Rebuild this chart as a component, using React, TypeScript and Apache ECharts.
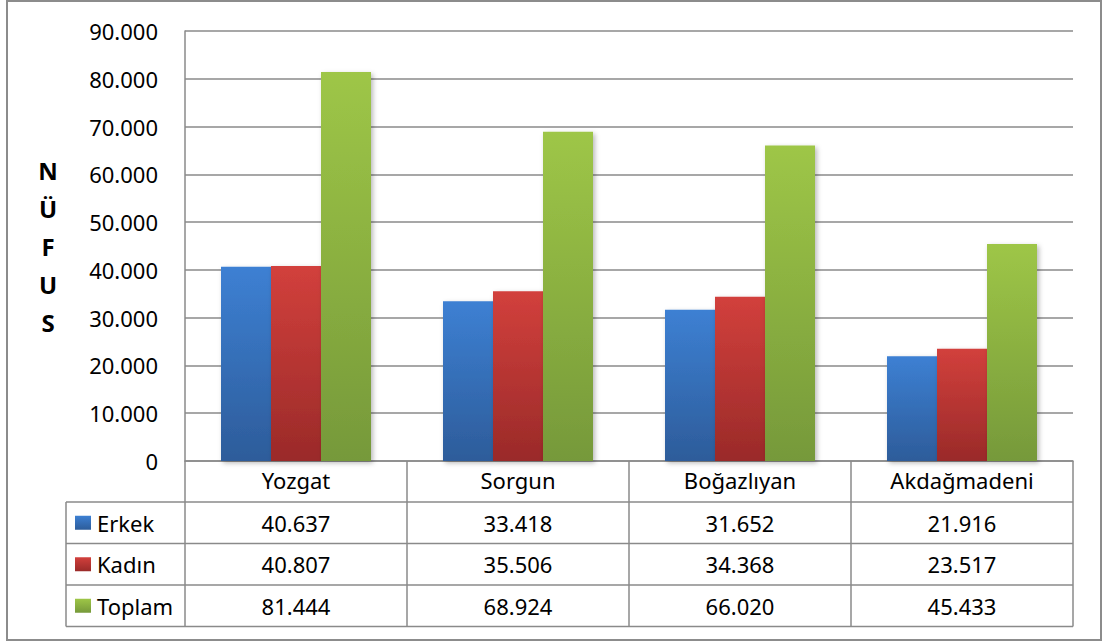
import React, { useEffect, useRef } from "react";
import * as echarts from "echarts";

const categories = ["Yozgat", "Sorgun", "Boğazlıyan", "Akdağmadeni"];
const seriesNames = ["Erkek", "Kadın", "Toplam"];
const erkek = [40637, 33418, 31652, 21916];
const kadin = [40807, 35506, 34368, 23517];
const toplam = [81444, 68924, 66020, 45433];
const yTicks = [0, 10000, 20000, 30000, 40000, 50000, 60000, 70000, 80000, 90000];
const axisTitle = ["N", "Ü", "F", "U", "S"];

const gradients = [
  ["#3d80d3", "#2d5c9a"],
  ["#d2403c", "#9a2a29"],
  ["#9ec647", "#76993a"],
];

const FONT = "Noto Sans";
const FS = 22;
const LINE = "#8a8a8a";

const fmt = (v: number) => {
  if (v === 0) return "0";
  const s = String(Math.round(v));
  return s.replace(/\B(?=(\d{3})+(?!\d))/g, ".");
};

const grad = (i: number) =>
  new echarts.graphic.LinearGradient(0, 0, 0, 1, [
    { offset: 0, color: gradients[i][0] },
    { offset: 1, color: gradients[i][1] },
  ]);

export default function App() {
  const ref = useRef<HTMLDivElement>(null);
  useEffect(() => {
    if (!ref.current) return;
    const chart = echarts.init(ref.current, null, { renderer: "svg" });
    const data = [erkek, kadin, toplam];
    chart.setOption({
      animation: false,
      backgroundColor: "#ffffff",
      textStyle: { fontFamily: FONT },
      grid: { left: 185, right: 30, top: 31, bottom: 182, containLabel: false },
      xAxis: {
        type: "category",
        data: categories,
        axisLine: { show: true, lineStyle: { color: LINE, width: 1.5 } },
        axisTick: { show: false },
        axisLabel: { color: "#000", fontSize: FS, fontFamily: FONT, margin: 8 },
      },
      yAxis: {
        type: "value",
        min: yTicks[0],
        max: yTicks[yTicks.length - 1],
        interval: yTicks[1] - yTicks[0],
        axisLine: { show: true, lineStyle: { color: LINE, width: 1.5 } },
        axisTick: { show: false },
        axisLabel: {
          color: "#000",
          fontSize: FS,
          fontFamily: FONT,
          margin: 27,
          formatter: (v: number) => fmt(v),
        },
        splitLine: { show: true, lineStyle: { color: LINE, width: 1.5 } },
      },
      series: seriesNames.map((name, i) => ({
        name,
        type: "bar",
        data: data[i],
        barWidth: 50,
        barGap: "0%",
        itemStyle: {
          color: grad(i),
          shadowBlur: 5,
          shadowColor: "rgba(0,0,0,0.28)",
          shadowOffsetX: 2,
          shadowOffsetY: 2,
        },
      })),
    });

    const cx = categories.map((c, i) => chart.convertToPixel({ xAxisIndex: 0 }, i) as number);
    const band = cx.length > 1 ? cx[1] - cx[0] : 200;
    const tLeftCat = cx[0] - band / 2;
    const tRight = cx[cx.length - 1] + band / 2;
    const y0 = chart.convertToPixel({ yAxisIndex: 0 }, 0) as number;
    const yTop = chart.convertToPixel({ yAxisIndex: 0 }, yTicks[yTicks.length - 1]) as number;
    const headerH = 41;
    const rowH = 41.5;
    const tableLeft = 66;
    const rowTops = seriesNames.map((_, i) => y0 + headerH + i * rowH);
    const tBottom = y0 + headerH + seriesNames.length * rowH;

    const els: any[] = [];
    const ls = { stroke: LINE, lineWidth: 1.5 };
    els.push({
      type: "rect",
      shape: { x: 7, y: 1, width: 1094, height: 639 },
      style: { fill: "none", stroke: "#8c8c8c", lineWidth: 2 },
      z: 1,
    });
    rowTops.forEach((y) => {
      els.push({ type: "line", shape: { x1: tableLeft, y1: y, x2: tRight, y2: y }, style: ls });
    });
    els.push({ type: "line", shape: { x1: tableLeft, y1: tBottom, x2: tRight, y2: tBottom }, style: ls });
    els.push({ type: "line", shape: { x1: tableLeft, y1: rowTops[0], x2: tableLeft, y2: tBottom }, style: ls });
    for (let i = 0; i <= categories.length; i++) {
      const x = tLeftCat + i * band;
      els.push({ type: "line", shape: { x1: x, y1: y0, x2: x, y2: tBottom }, style: ls });
    }
    seriesNames.forEach((name, i) => {
      const yc = rowTops[i] + rowH / 2;
      els.push({
        type: "rect",
        shape: { x: tableLeft + 9, y: yc - 7, width: 16, height: 14 },
        style: { fill: grad(i) },
      });
      els.push({
        type: "text",
        x: tableLeft + 31,
        y: yc,
        style: {
          text: name,
          fill: "#000",
          font: `${FS}px "${FONT}"`,
          textAlign: "left",
          textVerticalAlign: "middle",
        },
      });
      data[i].forEach((v, j) => {
        els.push({
          type: "text",
          x: cx[j],
          y: yc,
          style: {
            text: fmt(v),
            fill: "#000",
            font: `${FS}px "${FONT}"`,
            textAlign: "center",
            textVerticalAlign: "middle",
          },
        });
      });
    });
    const mid = (y0 + yTop) / 2;
    const step = 38;
    axisTitle.forEach((ch, i) => {
      els.push({
        type: "text",
        x: 48,
        y: mid + (i - (axisTitle.length - 1) / 2) * step,
        style: {
          text: ch,
          fill: "#000",
          font: `bold 24px "${FONT}"`,
          textAlign: "center",
          textVerticalAlign: "middle",
        },
      });
    });
    chart.setOption({ graphic: { elements: els } });

    return () => chart.dispose();
  }, []);
  return (
    <div
      ref={ref}
      style={{ position: "fixed", left: 0, top: 0, width: 1103, height: 643, background: "#fff" }}
    />
  );
}
